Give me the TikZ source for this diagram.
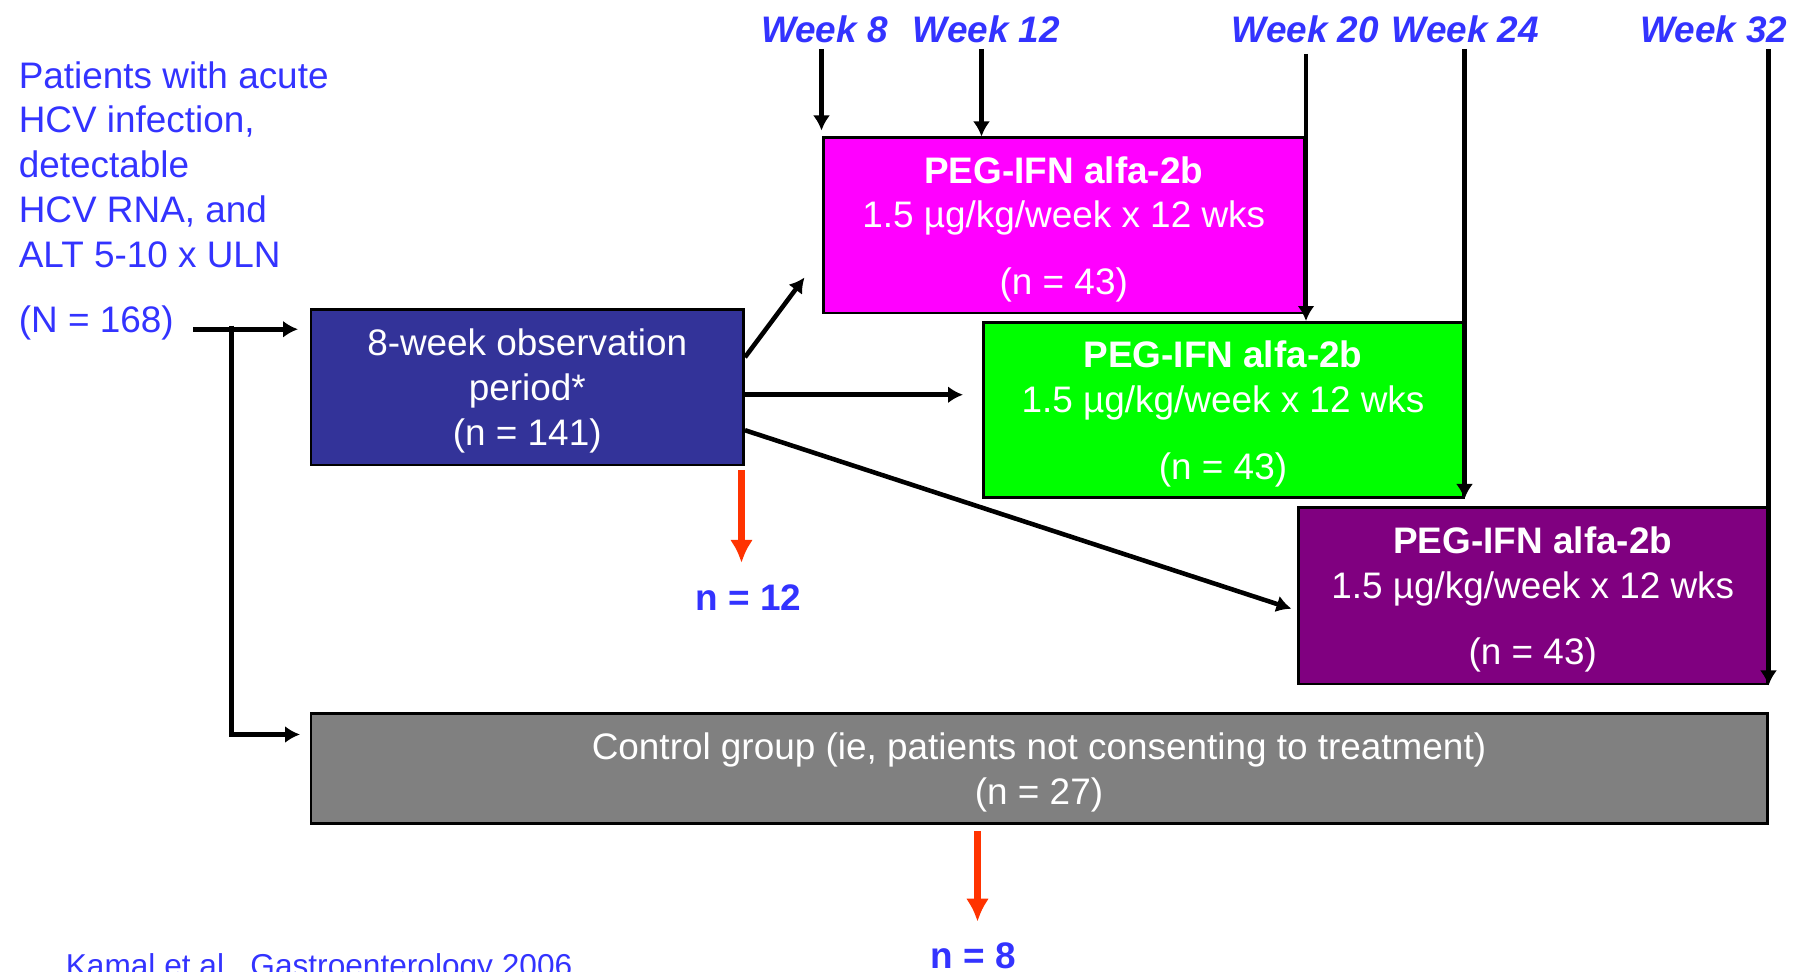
\documentclass[tikz,border=0pt]{standalone}
\usepackage{fontspec}
\setmainfont{Liberation Sans}
\usetikzlibrary{positioning,calc,arrows.meta}
\definecolor{Textblue}{RGB}{51,51,255}
\definecolor{Obsblue}{RGB}{51,51,153}
\definecolor{Pegmagenta}{RGB}{255,0,255}
\definecolor{Peggreen}{RGB}{0,255,0}
\definecolor{Pegpurple}{RGB}{128,0,128}
\definecolor{Ctrlgray}{RGB}{128,128,128}
\definecolor{Dropred}{RGB}{255,51,0}

\tikzset{
  armbox/.style={draw=black, line width=1.7pt, text=white, align=center, inner sep=0pt, text depth=0pt,
    font=\fontsize{21}{25.5}\selectfont},
  weeklabel/.style={text=Textblue, font=\fontsize{21}{25}\selectfont\bfseries\itshape},
  bluetext/.style={text=Textblue, font=\fontsize{21}{25.5}\selectfont},
  arr/.style={line width=2.6pt, ->, >={Latex[length=3mm,width=3.4mm]}},
  droparr/.style={Dropred, line width=4pt, ->, >={Latex[length=4.6mm,width=4.6mm]}},
}

\begin{document}
\begin{tikzpicture}
      \useasboundingbox (0,0) rectangle (36.1,19.42);
      % inclusion criteria
      \node[bluetext, align=left, anchor=north west, inner sep=0pt] (crit) at (0.37,18.2)
            {Patients with acute\\HCV infection,\\detectable\\HCV RNA, and\\ALT 5-10 x ULN};
      \node[bluetext, anchor=west, inner sep=0pt] (total) at (0.37,12.97) {(N = 168)};
      % study arms
      \node[armbox, fill=Obsblue, minimum width=8.65cm, minimum height=3.11cm] (obs) at (10.545,11.675)
            {8-week observation\\period*\\(n = 141)};
      \node[armbox, fill=Pegmagenta, minimum width=9.63cm, minimum height=3.5cm] (peg8) at (21.275,14.91)
            {\textbf{PEG-IFN alfa-2b}\\1.5 µg/kg/week x 12 wks\\[0.44cm](n = 43)};
      \node[armbox, fill=Peggreen, minimum width=9.6cm, minimum height=3.5cm] (peg12) at (24.46,11.22)
            {\textbf{PEG-IFN alfa-2b}\\1.5 µg/kg/week x 12 wks\\[0.44cm](n = 43)};
      \node[armbox, fill=Pegpurple, minimum width=9.37cm, minimum height=3.53cm] (peg20) at (30.655,7.505)
            {\textbf{PEG-IFN alfa-2b}\\1.5 µg/kg/week x 12 wks\\[0.44cm](n = 43)};
      \node[armbox, fill=Ctrlgray, minimum width=29.12cm, minimum height=2.19cm] (ctrl) at (20.78,4.05)
            {Control group (ie, patients not consenting to treatment)\\(n = 27)};
      % time points
      \node[weeklabel] (w8) at (16.49,18.84) {Week 8};
      \node[weeklabel] (w12) at (19.73,18.84) {Week 12};
      \node[weeklabel] (w20) at (26.11,18.84) {Week 20};
      \node[weeklabel] (w24) at (29.31,18.84) {Week 24};
      \node[weeklabel] (w32) at (34.28,18.84) {Week 32};
      % drop-outs
      \node[bluetext, font=\fontsize{21}{25}\selectfont\bfseries] (n12) at (14.97,7.47) {n = 12};
      \node[bluetext, font=\fontsize{21}{25}\selectfont\bfseries] (n8) at (19.46,0.31) {n = 8};
      \node[bluetext, font=\fontsize{18}{22}\selectfont, anchor=base west, inner sep=0pt] (ref) at (1.31,-0.1)
            {Kamal et al.\ \ Gastroenterology 2006};

      \coordinate (fork) at (4.63,12.835);
      \draw[arr] ($(total.east |- fork)+(0.38,0)$) -- ($(obs.west |- fork)+(-0.23,0)$);
      \draw[arr] ([yshift=0.07cm]fork) |- ($(ctrl.west)+(-0.19,0.68)$);
      \draw[arr] ([yshift=0.6cm]obs.east) -- ($(peg8.west)+(-0.34,-1.04)$);
      \draw[arr] ([yshift=-0.15cm]obs.east) -- ($(obs.east -| peg12.west)+(-0.37,-0.15)$);
      \draw[arr] ([yshift=-0.86cm]obs.east) -- ($(peg20.west)+(-0.11,-0.26)$);
      \draw[arr] (w8.south -| peg8.north west) -- ([yshift=0.12cm]peg8.north west);
      \draw[arr] (w12.south -| peg12.west) -- (peg12.west |- peg8.north);
      \draw[arr] ([yshift=-0.1cm]w20.south -| peg8.east) -- (peg8.east |- peg12.north);
      \draw[arr] (w24.south -| peg12.east) -- (peg12.south east);
      \draw[arr] (w32.south -| peg20.east) -- (peg20.south east);
      \draw[droparr] ($(obs.south east)+(-0.07,-0.07)$) -- ($(obs.south east |- n12.north)+(-0.07,0.31)$);
      \draw[droparr] ($(ctrl.south -| n8.north)+(0.09,-0.135)$) -- ($(n8.north)+(0.09,0.29)$);
\end{tikzpicture}
\end{document}
